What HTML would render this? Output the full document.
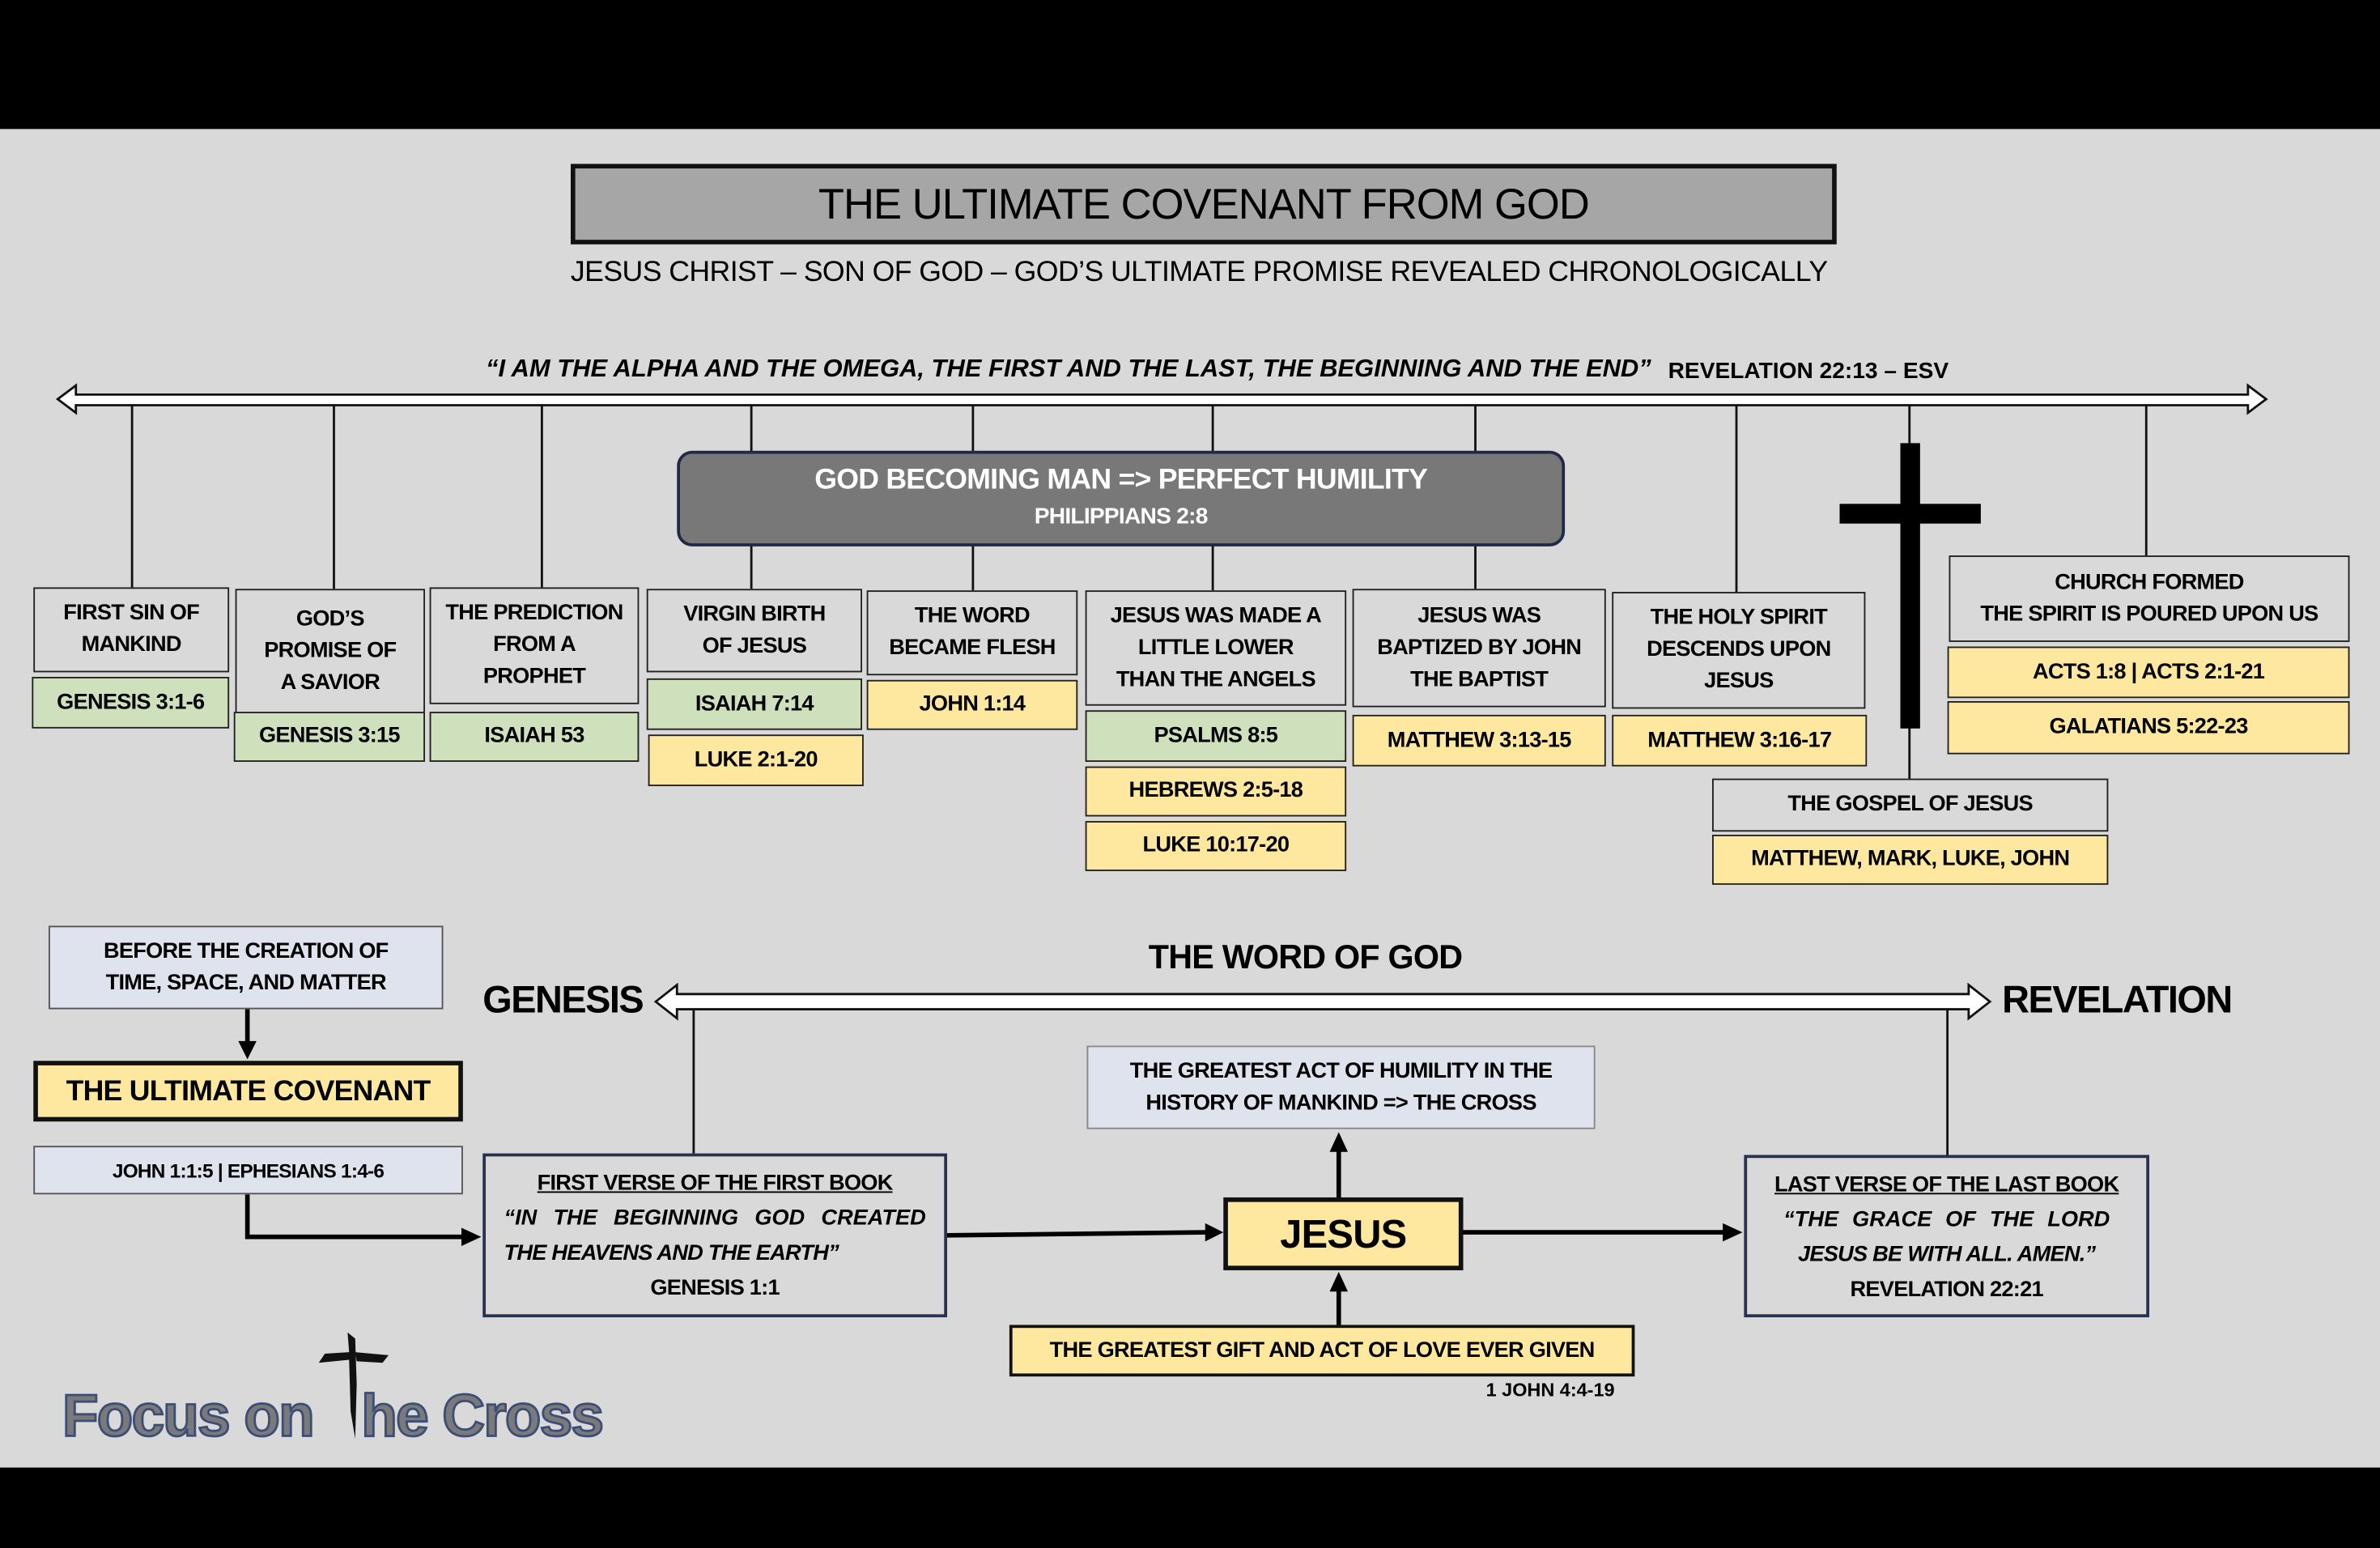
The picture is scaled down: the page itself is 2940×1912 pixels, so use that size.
<!DOCTYPE html>
<html><head><meta charset="utf-8"><style>
html,body{margin:0;padding:0;background:#000;}
body{width:2940px;height:1912px;overflow:hidden;position:relative;}
#s{position:absolute;left:0;top:0;width:1568px;height:1020px;transform:scale(1.875,1.8745);transform-origin:0 0;font-family:"Liberation Sans",sans-serif;}
.bg{position:absolute;left:0;top:85px;width:1568px;height:882px;background:#d9d9d9;}
.b{position:absolute;box-sizing:border-box;border:1.5px solid #222;display:flex;align-items:center;justify-content:center;text-align:center;font-weight:bold;font-size:14.5px;line-height:21px;letter-spacing:-0.4px;color:#000;background:#d9d9d9;}
.g{background:#cfe1bc;}
.y{background:#fee79e;}
.lb{background:#dfe3ee;border-color:#555;}
.t{position:absolute;white-space:nowrap;color:#000;}
</style></head><body><div id="s">
<div class="bg"></div>

<div class="b" style="left:376px;top:108px;width:834px;height:53px;background:#a6a6a6;border:3px solid #111;font-weight:normal;font-size:28px;letter-spacing:-0.5px;">THE ULTIMATE COVENANT FROM GOD</div>
<div class="t" style="left:0;width:1580px;text-align:center;top:169px;font-size:19px;letter-spacing:-0.3px;">JESUS CHRIST – SON OF GOD – GOD’S ULTIMATE PROMISE REVEALED CHRONOLOGICALLY</div>
<div class="t" style="left:320px;top:234px;font-size:16.5px;font-weight:bold;font-style:italic;letter-spacing:0px;">“I AM THE ALPHA AND THE OMEGA, THE FIRST AND THE LAST, THE BEGINNING AND THE END”</div>
<div class="t" style="left:1099px;top:236px;font-size:15px;font-weight:bold;letter-spacing:0px;">REVELATION 22:13 – ESV</div>

<svg style="position:absolute;left:0;top:0" width="1568" height="1020">
<g stroke="#111" stroke-width="1.5">
<line x1="87" y1="263" x2="87" y2="388"/>
<line x1="220" y1="263" x2="220" y2="389"/>
<line x1="357" y1="263" x2="357" y2="388"/>
<line x1="495" y1="263" x2="495" y2="389"/>
<line x1="641" y1="263" x2="641" y2="390"/>
<line x1="799" y1="263" x2="799" y2="390"/>
<line x1="972" y1="263" x2="972" y2="389"/>
<line x1="1144" y1="263" x2="1144" y2="391"/>
<line x1="1258" y1="263" x2="1258" y2="514"/>
<line x1="1414" y1="263" x2="1414" y2="367"/>
<line x1="457" y1="662" x2="457" y2="761"/>
<line x1="1283" y1="662" x2="1283" y2="762"/>
</g>
<polygon points="38,263 50,254 50,260 1481,260 1481,254 1493,263 1481,272 1481,267 50,267 50,272" fill="#fff" stroke="#111" stroke-width="1.5"/>
<polygon points="432,660 446,649 446,655 1297,655 1297,649 1311,660 1297,671 1297,665 446,665 446,671" fill="#fff" stroke="#111" stroke-width="1.5"/>
<rect x="1252" y="292" width="13" height="188" fill="#000"/>
<rect x="1212" y="332" width="93" height="13" fill="#000"/>
<g stroke="#000" stroke-width="3" fill="none">
<line x1="163" y1="665" x2="163" y2="688"/>
<polyline points="163,787 163,815 305,815"/>
<line x1="624" y1="814" x2="795" y2="812"/>
<line x1="882" y1="789" x2="882" y2="758"/>
<line x1="882" y1="873" x2="882" y2="850"/>
<line x1="964" y1="812" x2="1136" y2="812"/>
</g>
<g fill="#000">
<polygon points="157,686 169,686 163,698"/>
<polygon points="304,809 317,815 304,821"/>
<polygon points="794,806 806,812 794,818"/>
<polygon points="876,759 888,759 882,746"/>
<polygon points="876,851 888,851 882,838"/>
<polygon points="1135,806 1148,812 1135,818"/>
</g>
<path d="M229,878 L234,882 L235,912 L234,948 L231,930 L230,896 L210,898 L214,892 L230,891 Z" fill="#111"/>
<path d="M234,891 L256,893 L252,898 L235,897 Z" fill="#111"/>
</svg>

<div class="b" style="left:446px;top:297px;width:585px;height:63px;background:#787878;border:2px solid #1f2a44;border-radius:10px;color:#fff;flex-direction:column;font-size:19px;line-height:24px;"><div>GOD BECOMING MAN =&gt; PERFECT HUMILITY</div><div style="font-size:15px;">PHILIPPIANS 2:8</div></div>

<div class="b" style="left:22px;top:387px;width:129px;height:56px;">FIRST SIN OF<br>MANKIND</div>
<div class="b g" style="left:21px;top:446px;width:130px;height:34px;">GENESIS 3:1-6</div>
<div class="b" style="left:155px;top:388px;width:125px;height:83px;">GOD’S<br>PROMISE OF<br>A SAVIOR</div>
<div class="b g" style="left:154px;top:469px;width:126px;height:33px;">GENESIS 3:15</div>
<div class="b" style="left:283px;top:387px;width:138px;height:77px;">THE PREDICTION<br>FROM A<br>PROPHET</div>
<div class="b g" style="left:283px;top:469px;width:138px;height:33px;">ISAIAH 53</div>
<div class="b" style="left:426px;top:388px;width:142px;height:55px;">VIRGIN BIRTH<br>OF JESUS</div>
<div class="b g" style="left:426px;top:447px;width:142px;height:34px;">ISAIAH 7:14</div>
<div class="b y" style="left:427px;top:484px;width:142px;height:34px;">LUKE 2:1-20</div>
<div class="b" style="left:571px;top:389px;width:139px;height:56px;">THE WORD<br>BECAME FLESH</div>
<div class="b y" style="left:571px;top:448px;width:139px;height:33px;">JOHN 1:14</div>
<div class="b" style="left:715px;top:389px;width:172px;height:76px;">JESUS WAS MADE A<br>LITTLE LOWER<br>THAN THE ANGELS</div>
<div class="b g" style="left:715px;top:468px;width:172px;height:34px;">PSALMS 8:5</div>
<div class="b y" style="left:715px;top:505px;width:172px;height:33px;">HEBREWS 2:5-18</div>
<div class="b y" style="left:715px;top:541px;width:172px;height:33px;">LUKE 10:17-20</div>
<div class="b" style="left:891px;top:388px;width:167px;height:78px;">JESUS WAS<br>BAPTIZED BY JOHN<br>THE BAPTIST</div>
<div class="b y" style="left:891px;top:471px;width:167px;height:34px;">MATTHEW 3:13-15</div>
<div class="b" style="left:1062px;top:390px;width:167px;height:77px;">THE HOLY SPIRIT<br>DESCENDS UPON<br>JESUS</div>
<div class="b y" style="left:1062px;top:471px;width:168px;height:34px;">MATTHEW 3:16-17</div>
<div class="b" style="left:1284px;top:366px;width:264px;height:57px;">CHURCH FORMED<br>THE SPIRIT IS POURED UPON US</div>
<div class="b y" style="left:1283px;top:426px;width:265px;height:34px;">ACTS 1:8 | ACTS 2:1-21</div>
<div class="b y" style="left:1283px;top:462px;width:265px;height:35px;">GALATIANS 5:22-23</div>
<div class="b" style="left:1128px;top:513px;width:261px;height:35px;">THE GOSPEL OF JESUS</div>
<div class="b y" style="left:1128px;top:550px;width:261px;height:33px;">MATTHEW, MARK, LUKE, JOHN</div>

<div class="b lb" style="left:32px;top:610px;width:260px;height:55px;">BEFORE THE CREATION OF<br>TIME, SPACE, AND MATTER</div>
<div class="b y" style="left:22px;top:699px;width:283px;height:40px;border:3px solid #111;font-size:19px;">THE ULTIMATE COVENANT</div>
<div class="b lb" style="left:22px;top:755px;width:283px;height:32px;font-size:13px;">JOHN 1:1:5 | EPHESIANS 1:4-6</div>

<div class="t" style="left:740px;width:240px;text-align:center;top:618px;font-size:22px;font-weight:bold;letter-spacing:-0.4px;">THE WORD OF GOD</div>
<div class="t" style="left:318px;top:645px;font-size:25px;font-weight:bold;letter-spacing:-0.8px;">GENESIS</div>
<div class="t" style="left:1319px;top:645px;font-size:25px;font-weight:bold;letter-spacing:-0.8px;">REVELATION</div>

<div class="b" style="left:318px;top:760px;width:306px;height:108px;border:2px solid #26324f;display:block;padding:7px 12px 0;line-height:23px;">
<div style="text-decoration:underline;">FIRST VERSE OF THE FIRST BOOK</div>
<div style="font-style:italic;text-align:justify;text-align-last:justify;letter-spacing:0;">“IN THE BEGINNING GOD CREATED</div>
<div style="font-style:italic;text-align:left;">THE HEAVENS AND THE EARTH”</div>
<div>GENESIS 1:1</div></div>

<div class="b lb" style="left:716px;top:689px;width:335px;height:55px;border-color:#888;">THE GREATEST ACT OF HUMILITY IN THE<br>HISTORY OF MANKIND =&gt; THE CROSS</div>
<div class="b y" style="left:806px;top:789px;width:158px;height:48px;border:3px solid #111;font-size:26px;">JESUS</div>
<div class="b y" style="left:665px;top:873px;width:412px;height:34px;border:2.5px solid #111;">THE GREATEST GIFT AND ACT OF LOVE EVER GIVEN</div>
<div class="t" style="left:979px;top:909px;font-size:12.5px;font-weight:bold;">1 JOHN 4:4-19</div>

<div class="b" style="left:1149px;top:761px;width:267px;height:107px;border:2px solid #26324f;display:block;padding:7px 10px 0;line-height:23px;">
<div style="text-decoration:underline;white-space:nowrap;">LAST VERSE OF THE LAST BOOK</div>
<div style="font-style:italic;text-align:justify;text-align-last:justify;letter-spacing:0;padding:0 14px;white-space:nowrap;">“THE GRACE OF THE LORD</div>
<div style="font-style:italic;white-space:nowrap;">JESUS BE WITH ALL. AMEN.”</div>
<div>REVELATION 22:21</div></div>

<div class="t" style="left:41px;top:912px;font-size:39px;font-weight:bold;color:#7a7a7a;-webkit-text-stroke:1.5px #3c4d78;letter-spacing:-1px;">Focus on</div>
<div class="t" style="left:238px;top:912px;font-size:39px;font-weight:bold;color:#7a7a7a;-webkit-text-stroke:1.5px #3c4d78;letter-spacing:-1px;">he Cross</div>
</div></body></html>
